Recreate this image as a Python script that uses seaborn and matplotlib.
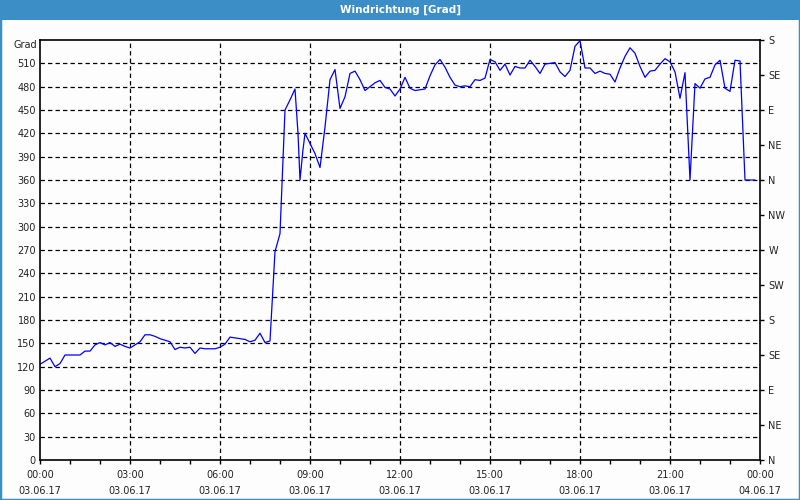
import matplotlib
matplotlib.use("Agg")
import matplotlib.pyplot as plt
import seaborn as sns
import pandas as pd
from matplotlib.patches import Rectangle
from matplotlib.ticker import MultipleLocator

# ─── Data (wind direction, 10-minute readings) ─────────────────────────────────

times = [
    "00:00", "00:10", "00:20", "00:30", "00:40", "00:50", "01:00", "01:10", "01:20", "01:30",
    "01:40", "01:50", "02:00", "02:10", "02:20", "02:30", "02:40", "02:50", "03:00", "03:10",
    "03:20", "03:30", "03:40", "03:50", "04:00", "04:10", "04:20", "04:30", "04:40", "04:50",
    "05:00", "05:10", "05:20", "05:30", "05:40", "05:50", "06:00", "06:10", "06:20", "06:30",
    "06:40", "06:50", "07:00", "07:10", "07:20", "07:30", "07:40", "07:50", "08:00", "08:10",
    "08:20", "08:30", "08:36", "08:40", "08:46", "08:50", "09:00", "09:10", "09:20", "09:30",
    "09:40", "09:50", "10:00", "10:10", "10:20", "10:30", "10:40", "10:50", "11:00", "11:10",
    "11:20", "11:30", "11:40", "11:50", "12:00", "12:10", "12:20", "12:30", "12:40", "12:50",
    "13:00", "13:10", "13:20", "13:30", "13:40", "13:50", "14:00", "14:10", "14:20", "14:30",
    "14:40", "14:50", "15:00", "15:10", "15:20", "15:30", "15:40", "15:50", "16:00", "16:10",
    "16:20", "16:30", "16:40", "16:50", "17:00", "17:10", "17:20", "17:30", "17:40", "17:50",
    "18:00", "18:10", "18:20", "18:30", "18:40", "18:50", "19:00", "19:10", "19:20", "19:30",
    "19:40", "19:50", "20:00", "20:10", "20:20", "20:30", "20:40", "20:50", "21:00", "21:10",
    "21:20", "21:30", "21:40", "21:50", "22:00", "22:10", "22:20", "22:30", "22:40", "22:50",
    "23:00", "23:10", "23:20", "23:30", "23:40", "23:50",
]

degrees = [
    123, 127, 131, 120, 124, 135, 135, 135, 135, 140,
    140, 148, 151, 148, 151, 146, 149, 146, 144, 148,
    152, 161, 161, 159, 156, 154, 152, 142, 145, 144,
    145, 137, 144, 143, 143, 143, 145, 149, 158, 157,
    156, 155, 152, 154, 163, 151, 153, 268, 291, 450,
    463, 477, 420, 360, 399, 420, 407, 394, 376, 428,
    489, 502, 452, 467, 497, 500, 489, 475, 480, 485,
    488, 479, 477, 468, 477, 492, 478, 475, 476, 477,
    494, 508, 515, 505, 492, 482, 480, 481, 480, 489,
    488, 491, 515, 512, 501, 509, 495, 506, 504, 504,
    514, 506, 497, 509, 510, 511, 499, 493, 501, 532,
    539, 504, 504, 497, 500, 497, 496, 486, 504, 519,
    530, 523, 506, 492, 500, 501, 509, 516, 512, 499,
    465, 498, 360, 484, 478, 490, 492, 508, 514, 478,
    474, 514, 513, 360, 360, 360,
]

hour_ticks = [0, 3, 6, 9, 12, 15, 18, 21, 24]
hour_labels = [
    "00:00\n03.06.17", "03:00\n03.06.17", "06:00\n03.06.17", "09:00\n03.06.17",
    "12:00\n03.06.17", "15:00\n03.06.17", "18:00\n03.06.17", "21:00\n03.06.17",
    "00:00\n04.06.17",
]

degree_ticks = list(range(0, 540, 30))
compass_ticks = list(range(0, 541, 45))
compass_labels = ["N", "NE", "E", "SE", "S", "SW", "W", "NW", "N", "NE", "E", "SE", "S"]

# ─── Style ─────────────────────────────────────────────────────────────────────

BAR_BLUE = "#3c8ec6"
BG = "#fcfdfc"

sns.set_style("white")
plt.rcParams["font.family"] = ["DejaVu Sans"]
plt.rcParams["font.size"] = 7

df = pd.DataFrame({
    "hour": [int(t[:2]) + int(t[3:]) / 60 for t in times],
    "deg": degrees,
})

fig = plt.figure(figsize=(8, 5), dpi=100, facecolor=BG)
ax = fig.add_axes([40 / 800, 40 / 500, 720 / 800, 420 / 500])
ax.set_facecolor(BG)

sns.lineplot(data=df, x="hour", y="deg", color="#0000ff", linewidth=0.9, ax=ax)

ax.set_xlim(0, 24)
ax.set_ylim(0, 540)
ax.set_xlabel("")
ax.set_ylabel("")

# grid lines, dashed black
for h in hour_ticks[1:-1]:
    ax.axvline(h, color="black", linewidth=0.9, linestyle=(0, (3.5, 2.5)), zorder=0)
for d in degree_ticks[1:]:
    ax.axhline(d, color="black", linewidth=0.9, linestyle=(0, (3.5, 2.5)), zorder=0)

for side in ["left", "right", "top", "bottom"]:
    ax.spines[side].set_visible(True)
    ax.spines[side].set_color("black")
    ax.spines[side].set_linewidth(1.2)

ax.set_yticks(degree_ticks)
ax.set_yticklabels([str(d) for d in degree_ticks], color="#222222")
ax.tick_params(axis="y", left=False, length=0, pad=3)

ax.set_xticks(hour_ticks)
ax.set_xticklabels(hour_labels, linespacing=1.8, color="#222222")
ax.xaxis.set_minor_locator(MultipleLocator(1))
ax.tick_params(axis="x", which="both", bottom=True, direction="out",
               length=3, width=1, color="black", pad=4)

# compass directions on the right
ax2 = ax.twinx()
ax2.set_ylim(0, 540)
ax2.set_yticks(compass_ticks)
ax2.set_yticklabels(compass_labels, color="#222222")
ax2.tick_params(axis="y", right=True, direction="out", length=3, width=1,
                color="black", pad=3)
for side in ["left", "right", "top", "bottom"]:
    ax2.spines[side].set_visible(False)

fig.text(37 / 800, 1 - 45 / 500, "Grad", ha="right", va="center", color="#222222")

# title bar and window frame
fig.add_artist(Rectangle((0, 1 - 20 / 500), 1, 20 / 500, transform=fig.transFigure,
                         facecolor=BAR_BLUE, edgecolor="none"))
fig.text(0.5, 1 - 10 / 500, "Windrichtung [Grad]", ha="center", va="center",
         color="white", fontsize=7.5, fontweight="bold")
fig.add_artist(Rectangle((0, 0), 1, 1, transform=fig.transFigure, fill=False,
                         edgecolor=BAR_BLUE, linewidth=2.5))

fig.savefig("out.png", dpi=100, facecolor=BG)
